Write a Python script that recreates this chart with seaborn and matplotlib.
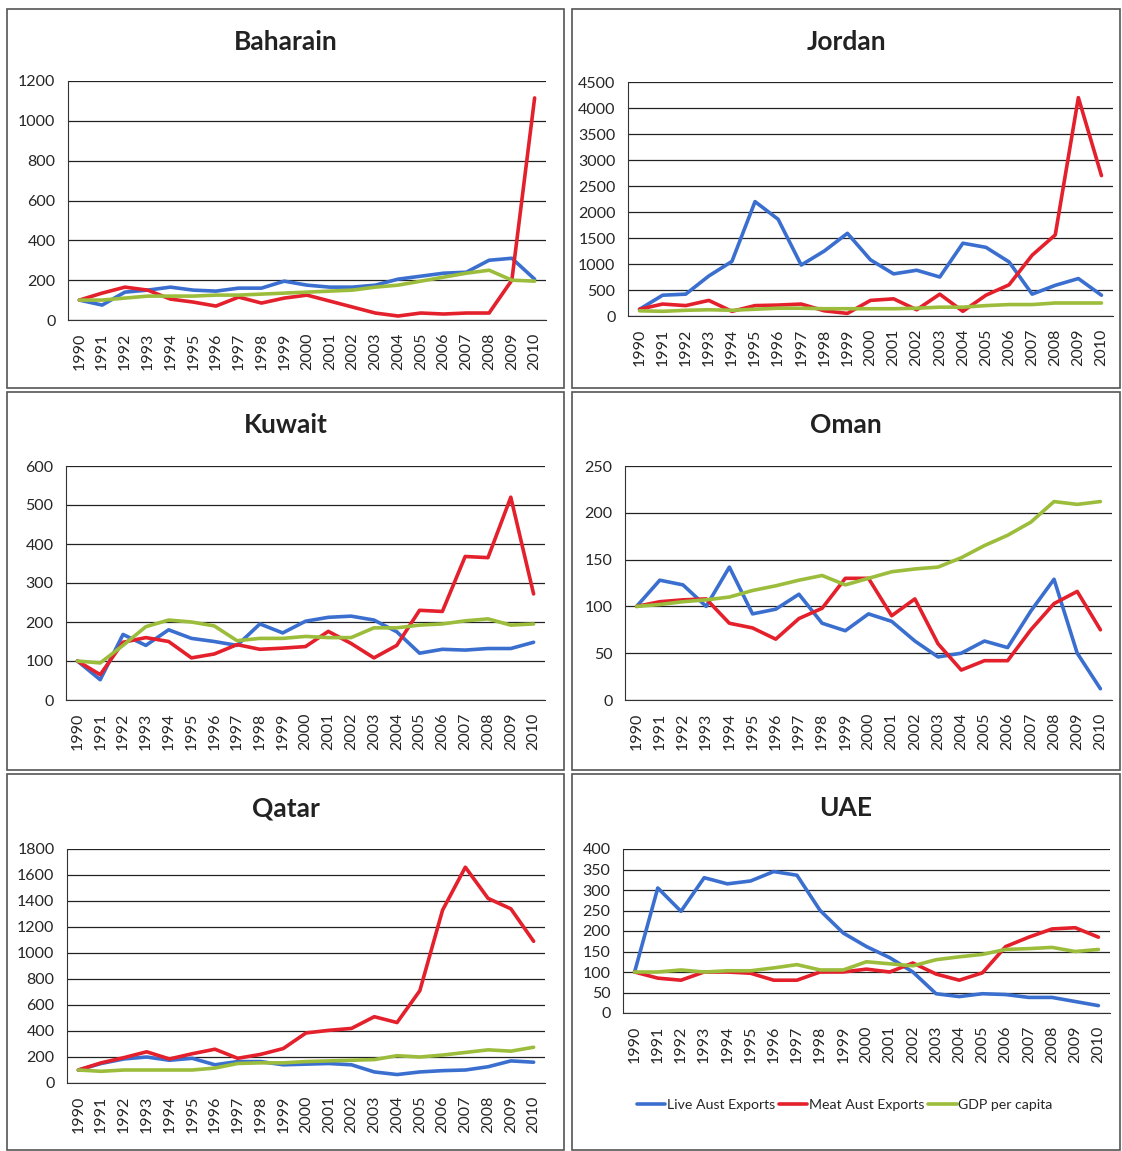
import seaborn as sns
import matplotlib.pyplot as plt
import pandas as pd
from matplotlib.patches import Rectangle
from matplotlib.ticker import MultipleLocator

sns.set_style('white')
plt.rcParams['font.family'] = ['Lato', 'DejaVu Sans']

years = [str(y) for y in range(1990, 2011)]
series_names = ['Live Aust Exports', 'Meat Aust Exports', 'GDP per capita']
colores = ['#3b6fcf', '#e3202b', '#9cbd3c']

# Baharain
bah_live = [100, 75, 140, 150, 165, 150, 145, 160, 160, 195, 175, 165, 165, 175, 205, 220, 235, 240, 300, 310, 205]
bah_meat = [100, 135, 165, 150, 105, 90, 70, 115, 85, 110, 125, 95, 65, 35, 20, 35, 30, 35, 35, 200, 1115]
bah_gdp = [100, 100, 110, 120, 120, 120, 125, 125, 130, 135, 140, 145, 150, 165, 175, 195, 215, 235, 250, 200, 195]

# Jordan
jor_live = [130, 400, 420, 770, 1050, 2200, 1860, 980, 1250, 1590, 1080, 810, 880, 750, 1400, 1320, 1040, 420, 590, 720, 400]
jor_meat = [130, 230, 200, 300, 90, 200, 210, 230, 100, 50, 300, 330, 120, 420, 90, 400, 600, 1170, 1560, 4200, 2700]
jor_gdp = [100, 90, 110, 120, 110, 130, 150, 150, 140, 140, 140, 140, 150, 170, 170, 200, 220, 220, 250, 250, 250]

# Kuwait
kuw_live = [100, 52, 168, 140, 180, 158, 150, 140, 195, 172, 202, 212, 215, 205, 175, 120, 130, 128, 132, 132, 148]
kuw_meat = [100, 65, 148, 160, 150, 108, 118, 142, 130, 133, 137, 176, 145, 108, 140, 230, 227, 368, 365, 520, 272]
kuw_gdp = [100, 95, 140, 188, 205, 200, 190, 152, 158, 158, 163, 160, 160, 185, 185, 192, 195, 203, 208, 192, 195]

# Oman
oma_live = [100, 128, 123, 100, 142, 92, 97, 113, 82, 74, 92, 84, 63, 46, 50, 63, 56, 95, 129, 50, 12]
oma_meat = [100, 105, 107, 108, 82, 77, 65, 87, 98, 130, 130, 90, 108, 60, 32, 42, 42, 75, 103, 116, 75]
oma_gdp = [100, 102, 105, 107, 110, 117, 122, 128, 133, 123, 130, 137, 140, 142, 152, 165, 176, 190, 212, 209, 212]

# Qatar
qat_live = [100, 150, 185, 200, 175, 190, 140, 165, 165, 140, 145, 150, 140, 85, 65, 85, 95, 100, 125, 170, 160]
qat_meat = [100, 155, 195, 240, 185, 225, 260, 190, 220, 265, 385, 405, 420, 510, 465, 710, 1330, 1660, 1420, 1340, 1090]
qat_gdp = [100, 90, 100, 100, 100, 100, 115, 150, 155, 155, 165, 170, 175, 180, 210, 200, 215, 235, 255, 245, 275]

# UAE
uae_live = [100, 305, 248, 330, 315, 322, 345, 336, 250, 195, 162, 135, 100, 47, 40, 47, 45, 38, 38, 28, 18]
uae_meat = [100, 85, 80, 100, 100, 97, 80, 80, 100, 100, 107, 100, 122, 95, 80, 98, 162, 185, 205, 208, 185]
uae_gdp = [100, 100, 105, 100, 103, 103, 110, 118, 105, 105, 125, 120, 115, 130, 137, 143, 155, 157, 160, 150, 155]

paises = [
    ('Baharain', [bah_live, bah_meat, bah_gdp], 1200, 200),
    ('Jordan', [jor_live, jor_meat, jor_gdp], 4500, 500),
    ('Kuwait', [kuw_live, kuw_meat, kuw_gdp], 600, 100),
    ('Oman', [oma_live, oma_meat, oma_gdp], 250, 50),
    ('Qatar', [qat_live, qat_meat, qat_gdp], 1800, 200),
    ('UAE', [uae_live, uae_meat, uae_gdp], 400, 50),
]

W, H = 1122, 1151
fig = plt.figure(figsize=(W / 100, H / 100), dpi=100)

# caixas dos paineis (pixels: x0, y0, x1, y1)
caixas = [(7, 9, 564, 388), (572, 9, 1120, 388),
          (7, 392, 564, 770), (572, 392, 1120, 770),
          (7, 774, 564, 1150), (572, 774, 1120, 1150)]
# eixos (pixels: left, top, right, bottom)
eixos = [(68, 81, 546, 320), (628, 82, 1113, 316),
         (66, 466, 545, 700), (625, 466, 1112, 700),
         (67, 849, 545, 1083), (623, 849, 1110, 1013)]
titulos_y = [42, 425, 808]

for i, (nome, vals, ymax, passo) in enumerate(paises):
    x0, y0, x1, y1 = caixas[i]
    fig.patches.append(Rectangle((x0 / W, 1 - y1 / H), (x1 - x0) / W, (y1 - y0) / H,
                                 transform=fig.transFigure, fill=False,
                                 edgecolor='#555555', linewidth=1.2))
    l, t, r, b = eixos[i]
    ax = fig.add_axes([l / W, 1 - b / H, (r - l) / W, (b - t) / H])

    df = pd.DataFrame({'ano': list(range(21)) * 3,
                       'valor': vals[0] + vals[1] + vals[2],
                       'serie': [s for s in series_names for _ in range(21)]})
    sns.lineplot(data=df, x='ano', y='valor', hue='serie', hue_order=series_names,
                 palette=colores, linewidth=2.6, ax=ax, legend=False)

    ax.set_xlim(-0.5, 20.5)
    ax.set_ylim(0, ymax)
    ax.yaxis.set_major_locator(MultipleLocator(passo))
    ax.grid(axis='y', color='#222222', linewidth=0.9)
    ax.set_axisbelow(True)
    ax.set_xticks(range(21))
    ax.set_xticklabels(years, rotation=90, fontsize=11.5)
    ax.set_xticks([k - 0.5 for k in range(22)], minor=True)
    ax.tick_params(axis='x', which='major', length=0, pad=9)
    ax.tick_params(axis='x', which='minor', length=5, width=1, color='#333333', direction='out')
    ax.tick_params(axis='y', length=5, width=1, color='#333333', direction='out', labelsize=11.5, pad=4)
    ax.set_xlabel('')
    ax.set_ylabel('')
    for lado in ['top', 'right']:
        ax.spines[lado].set_visible(False)
    ax.spines['left'].set_color('#333333')
    ax.spines['bottom'].set_color('#333333')

    cx = (x0 + x1) / 2 / W
    fig.text(cx, 1 - titulos_y[i // 2] / H, nome, ha='center', va='center',
             fontsize=19, fontweight='bold', color='#222222')

    if nome == 'UAE':
        linhas = [plt.Line2D([], [], color=c, linewidth=2.6) for c in colores]
        ax.legend(linhas, series_names, loc='center', bbox_to_anchor=(0.455, -0.56),
                  ncol=3, frameon=False, fontsize=10.2, handlelength=2.0,
                  handletextpad=0.1, columnspacing=0.3)

plt.savefig('out.png', dpi=100)
